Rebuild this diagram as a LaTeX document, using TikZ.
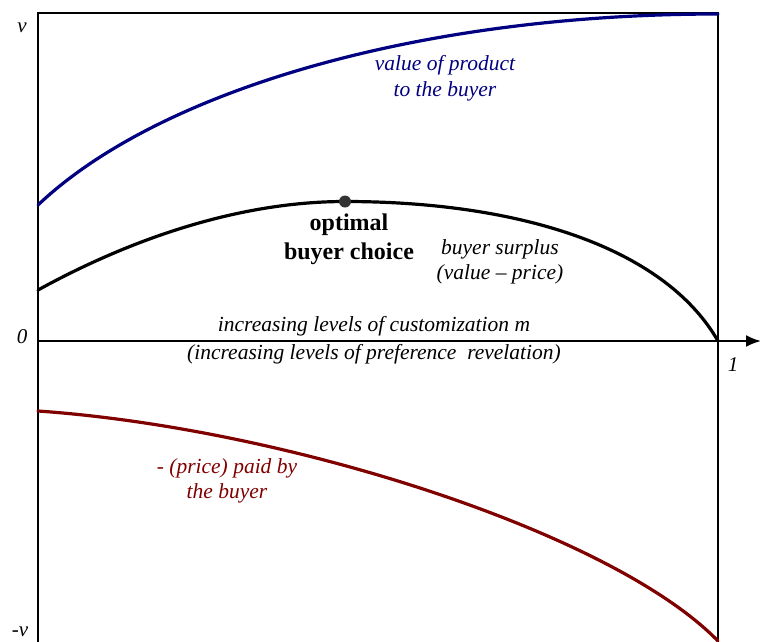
\documentclass[tikz,border=0pt]{standalone}
\usepackage{fontspec}
\setmainfont{Liberation Serif}
\usetikzlibrary{arrows.meta}
\definecolor{navyc}{RGB}{0,0,128}
\definecolor{maroonc}{RGB}{128,0,0}
\definecolor{dotc}{RGB}{51,51,51}
\tikzset{
  lbl/.style={font=\itshape\fontsize{21.5}{25.5}\selectfont, align=center, inner sep=0pt},
  axlbl/.style={font=\itshape\fontsize{21}{24}\selectfont, inner sep=0pt},
  boldlbl/.style={font=\bfseries\fontsize{24}{29}\selectfont, align=center, inner sep=0pt},
  frame/.style={line width=2pt, black},
  curve/.style={line width=3.2pt, line cap=round, line join=round},
}
\begin{document}
\begin{tikzpicture}[x=1pt,y=-1pt]
\useasboundingbox (0,0) rectangle (760,641);
% frame
\coordinate (tl) at (38,13);
\coordinate (tr) at (718,13);
\coordinate (bl) at (38,645);
\coordinate (br) at (718,645);
\draw[frame] (bl) -- (tl) -- (tr) -- (br);
% axis
\coordinate (ax0) at (38,341);
\coordinate (ax1) at (761,341);
\draw[frame, -{Latex[length=15pt,width=12pt]}] (ax0) -- (ax1);
% curves
\draw[curve, navyc] (38,205) .. controls (158,91) and (418,14) .. (718,14);
\coordinate (peak) at (345,201.5);
\draw[curve, black] (38,290) .. controls (138,235) and (245,201.5) .. (peak)
                    .. controls (515,201.5) and (663,245.3) .. (718,341);
\draw[curve, maroonc] (38,411) .. controls (288,428.5) and (613,533) .. (718,641);
% dot
\node[circle, fill=dotc, minimum size=12pt, inner sep=0pt] (opt) at (peak) {};
% axis labels
\node[axlbl] (lv) at (22,28) {v};
\node[axlbl] (l0) at (22,337) {0};
\node[axlbl] (lmv) at (20,632) {-v};
\node[axlbl] (l1) at (733,365) {1};
% texts
\node[lbl, text=navyc] (val) at (445,78) {value of product\\to the buyer};
\node[boldlbl] (ch) at (349,239.5) {optimal\\buyer choice};
\node[lbl] (surp) at (500,262) {buyer surplus\\(value -- price)};
\node[lbl, font=\itshape\fontsize{21.5}{28.5}\selectfont] (cust) at (374,340) {increasing levels of customization m\\(increasing levels of preference\ \ revelation)};
\node[lbl, text=maroonc] (price) at (227,481) {- (price) paid by\\the buyer};
\end{tikzpicture}
\end{document}
